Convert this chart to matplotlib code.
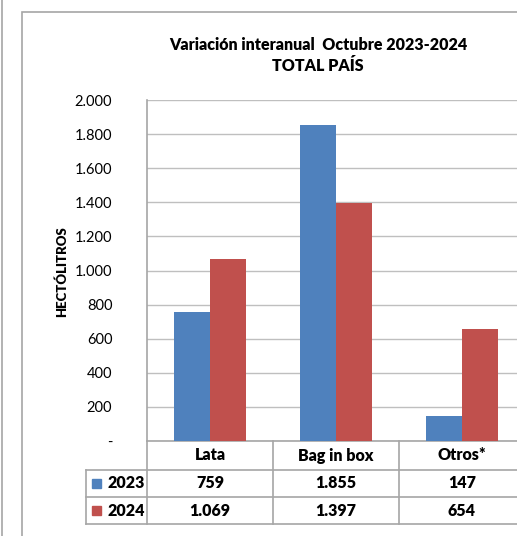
import matplotlib
matplotlib.use('Agg')
import matplotlib.pyplot as plt
from matplotlib.lines import Line2D
from matplotlib.patches import Rectangle
from matplotlib.ticker import FuncFormatter

categorias = ['Lata', 'Bag in box', 'Otros*']
anios = ['2023', '2024']
v2023 = [759, 1855, 147]
v2024 = [1069, 1397, 654]
colores = ['#4F81BD', '#C0504D']

plt.rcParams['font.family'] = ['Lato', 'DejaVu Sans']

W, H = 517, 536
fig = plt.figure(figsize=(W / 100, H / 100), dpi=100)


def fx(x):
    return x / W


def fy(y):
    return 1 - y / H


def miles(v, pos=None):
    if v == 0:
        return '-'
    return '{:,.0f}'.format(v).replace(',', '.')


gris = '#A6A6A6'
peso = 'heavy'

# marcos exteriores
fig.add_artist(Line2D([fx(2), fx(2)], [0, 1], color=gris, lw=1.2))
fig.add_artist(Rectangle((fx(22), fy(560)), fx(600), fy(12) - fy(560),
                         fill=False, edgecolor=gris, lw=1.2, transform=fig.transFigure))

# area de grafico
x0, x1, ytop, ybot = 147, 525, 100, 441
ax = fig.add_axes([fx(x0), fy(ybot), fx(x1) - fx(x0), fy(ytop) - fy(ybot)])
n = len(categorias)
ancho = 1 / 3.5
pos = list(range(n))
ax.bar([p - ancho / 2 for p in pos], v2023, width=ancho, color=colores[0], zorder=3)
ax.bar([p + ancho / 2 for p in pos], v2024, width=ancho, color=colores[1], zorder=3)
ax.set_xlim(-0.5, n - 0.5)
ax.set_ylim(0, 2000)
ax.set_yticks(range(0, 2001, 200))
ax.yaxis.set_major_formatter(FuncFormatter(miles))
ax.set_xticks([])
ax.tick_params(axis='y', length=0, pad=25, labelsize=10.5)
ax.grid(axis='y', color='#BFBFBF', lw=1, zorder=0)
for s in ['top', 'right']:
    ax.spines[s].set_visible(False)
for s in ['left', 'bottom']:
    ax.spines[s].set_color(gris)
    ax.spines[s].set_linewidth(1.2)

fig.text(fx(62), fy(272), 'HECTÓLITROS', rotation=90, ha='center', va='center',
         fontsize=9.5, fontweight=peso)
fig.text(fx(318), fy(45), 'Variación interanual  Octubre 2023-2024', ha='center',
         va='center', fontsize=11.5, fontweight=peso)
fig.text(fx(318), fy(66), 'TOTAL PAÍS', ha='center', va='center',
         fontsize=11.5, fontweight=peso)

# tabla de datos
filas = [441, 470, 497, 524]
xcol = [x0 + i * (x1 - x0) / n for i in range(n)]
xlab = 86


def linea(xa, xb, ya, yb):
    fig.add_artist(Line2D([fx(xa), fx(xb)], [fy(ya), fy(yb)], color=gris, lw=1.2))


for y in filas[1:]:
    linea(xlab, x1, y, y)
linea(xlab, xlab, filas[1], filas[3])
for x in xcol:
    linea(x, x, filas[0], filas[3])

for i, c in enumerate(categorias):
    xc = x0 + (i + 0.5) * (x1 - x0) / n
    fig.text(fx(xc), fy((filas[0] + filas[1]) / 2), c, ha='center', va='center',
             fontsize=11.5, fontweight=peso)
    for j, vals in enumerate([v2023, v2024]):
        fig.text(fx(xc), fy((filas[j + 1] + filas[j + 2]) / 2), miles(vals[i]),
                 ha='center', va='center', fontsize=11.5, fontweight=peso)

for j, a in enumerate(anios):
    yc = (filas[j + 1] + filas[j + 2]) / 2
    fig.add_artist(Rectangle((fx(92), fy(yc + 4.5)), fx(9), fy(yc - 4.5) - fy(yc + 4.5),
                             color=colores[j], transform=fig.transFigure))
    fig.text(fx(107), fy(yc), a, ha='left', va='center', fontsize=11.5, fontweight=peso)

fig.savefig('out.png', dpi=100)
